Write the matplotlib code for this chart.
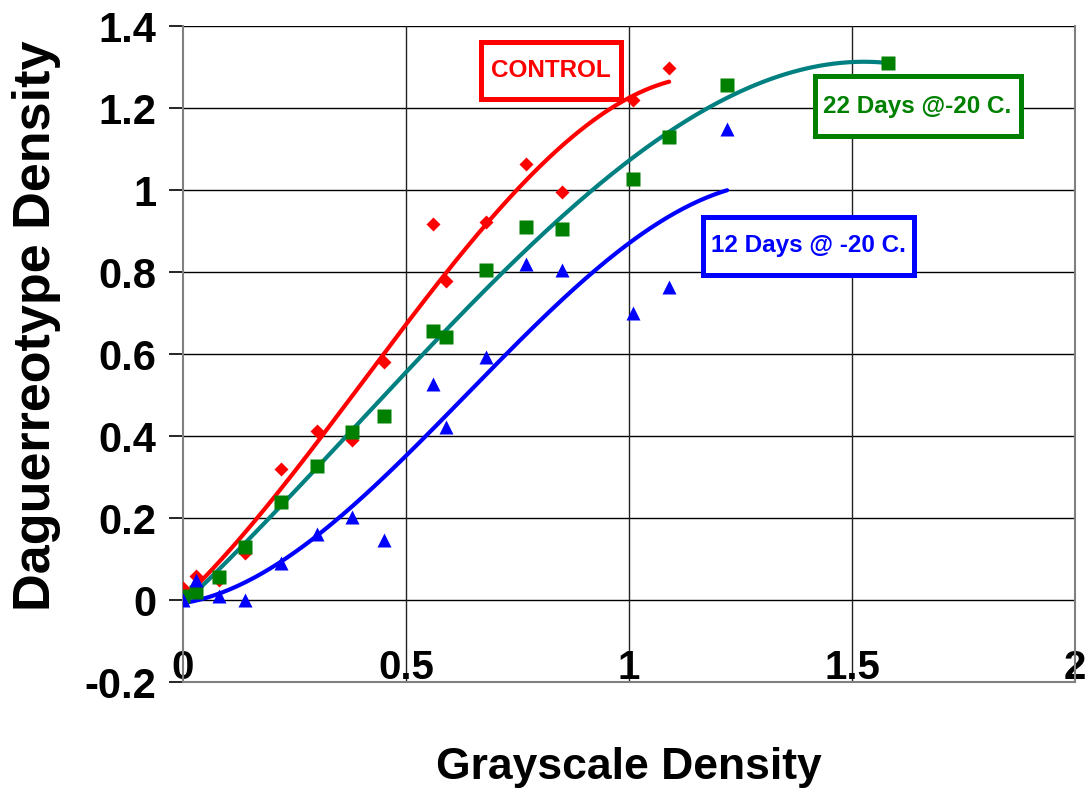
import matplotlib
matplotlib.use("Agg")
import matplotlib.pyplot as plt
from matplotlib.patches import Rectangle
import numpy as np

# grayscale density steps (x) and measured daguerreotype density per series
x_control = [0, 0.03, 0.08, 0.14, 0.22, 0.30, 0.38, 0.45, 0.56, 0.59, 0.68, 0.77, 0.85, 1.01, 1.09]
y_control = [0.03, 0.058, 0.05, 0.115, 0.32, 0.412, 0.39, 0.58, 0.917, 0.778, 0.922, 1.063, 0.995, 1.22, 1.298]

x_22days = [0, 0.03, 0.08, 0.14, 0.22, 0.30, 0.38, 0.45, 0.56, 0.59, 0.68, 0.77, 0.85, 1.01, 1.09, 1.22, 1.58]
y_22days = [0.01, 0.02, 0.056, 0.13, 0.239, 0.327, 0.41, 0.449, 0.656, 0.641, 0.805, 0.909, 0.905, 1.026, 1.13, 1.256, 1.309]

x_12days = [0, 0.03, 0.08, 0.14, 0.22, 0.30, 0.38, 0.45, 0.56, 0.59, 0.68, 0.77, 0.85, 1.01, 1.09, 1.22]
y_12days = [0.0, 0.049, 0.01, 0.0, 0.091, 0.161, 0.203, 0.146, 0.526, 0.423, 0.593, 0.82, 0.805, 0.70, 0.764, 1.149]

x_ticks = [0, 0.5, 1, 1.5, 2]
x_ticklabels = ["0", "0.5", "1", "1.5", "2"]
y_ticks = [-0.2, 0, 0.2, 0.4, 0.6, 0.8, 1, 1.2, 1.4]
y_ticklabels = ["-0.2", "0", "0.2", "0.4", "0.6", "0.8", "1", "1.2", "1.4"]

plt.rcParams['font.family'] = ['Liberation Sans', 'DejaVu Sans']
plt.rcParams['font.weight'] = 'bold'

fig = plt.figure(figsize=(10.92, 7.88), dpi=100)
ax = fig.add_axes([183 / 1092, 1 - 682 / 788, 892 / 1092, 656 / 788])

ax.set_xlim(0, 2)
ax.set_ylim(-0.2, 1.4)

# grid
for yv in y_ticks[1:]:
    ax.axhline(yv, color='black', lw=1.0, zorder=1)
for xv in x_ticks[1:-1]:
    ax.axvline(xv, color='#222222', lw=1.0, zorder=1)

for side in ['left', 'bottom', 'right']:
    ax.spines[side].set_color('#808080')
    ax.spines[side].set_linewidth(1.5)
ax.spines['top'].set_visible(False)

# trend lines (3rd order polynomial fits)
def trend(xs, ys, color):
    coef = np.polyfit(xs, ys, 3)
    xx = np.linspace(0, max(xs), 200)
    ax.plot(xx, np.polyval(coef, xx), color=color, lw=3, zorder=3, solid_capstyle='round')

ax.plot(x_control, y_control, 'D', color='#FF0000', ms=7.5, mec='none', zorder=4)
ax.plot(x_22days, y_22days, 's', color='#008000', ms=9.5, mec='none', zorder=4)
ax.plot(x_12days, y_12days, '^', color='#0000FF', ms=10, mec='none', zorder=4)

trend(x_control, y_control, '#FF0000')
trend(x_22days, y_22days, '#008080')
trend(x_12days, y_12days, '#0000FF')

ax.set_xticks(x_ticks)
ax.set_xticklabels(x_ticklabels, fontsize=29, fontweight='bold')
ax.set_yticks(y_ticks)
ax.set_yticklabels(y_ticklabels, fontsize=30, fontweight='bold')
ax.tick_params(axis='x', length=0, pad=-24)
ax.tick_params(axis='y', direction='out', length=10, width=1.2, color='black', pad=9)

ax.set_xlabel("Grayscale Density", fontsize=32, fontweight='bold')
ax.xaxis.set_label_coords(0.5, -0.13)
ax.xaxis.label.set_va('center')
ax.set_ylabel("Daguerreotype Density", fontsize=37.5, fontweight='bold')
ax.yaxis.set_label_coords(-0.164, 0.543)
ax.yaxis.label.set_va('center')

# series labels in framed boxes
def label_box(x0, x1, y0, y1, text, color):
    ax.add_patch(Rectangle((x0, y0), x1 - x0, y1 - y0, fc='white', ec=color,
                           lw=3.6, zorder=5, joinstyle='miter'))
    ax.text((x0 + x1) / 2, (y0 + y1) / 2, text, color=color, fontsize=17.5,
            fontweight='bold', ha='center', va='center', zorder=6)

label_box(0.669, 0.981, 1.221, 1.360, "CONTROL", '#FF0000')
label_box(1.416, 1.878, 1.131, 1.277, "22 Days @-20 C.", '#008000')
label_box(1.165, 1.640, 0.792, 0.935, "12 Days @ -20 C.", '#0000FF')

fig.savefig("out.png", dpi=100)
